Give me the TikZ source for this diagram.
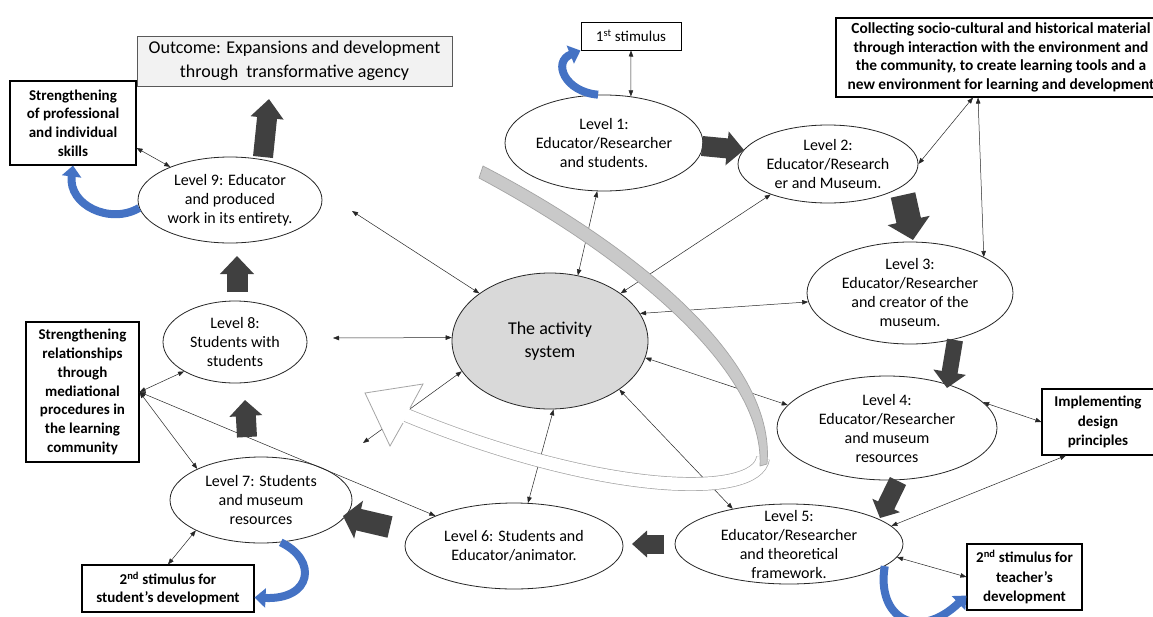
\documentclass[tikz,border=0pt]{standalone}
\usepackage{fontspec}
\setmainfont{Carlito}
\usetikzlibrary{arrows.meta,shapes.geometric}
\definecolor{darkarr}{HTML}{404040}
\definecolor{bluearr}{HTML}{4472C4}
\definecolor{bandfill}{HTML}{C9C9C9}
\definecolor{bandline}{HTML}{A5A5A5}
\definecolor{asfill}{HTML}{D9D9D9}
\definecolor{outfill}{HTML}{F2F2F2}
\begin{document}
\begin{tikzpicture}[x=1pt,y=-1pt,
  lvl/.style={ellipse, draw=black!85, line width=0.8pt, fill=white, inner sep=-40pt, align=center, font=\fontsize{16}{19}\selectfont},
  bx/.style={rectangle, draw=black, line width=1.1pt, fill=white, inner sep=0pt, align=center, font=\fontsize{15}{18.7}\selectfont\bfseries},
  conn/.style={draw=black!85, line width=0.5pt, {Triangle[length=6pt,width=4.5pt]}-{Triangle[length=6pt,width=4.5pt]}},
  blk/.style n args={3}{draw=darkarr, line width=#1, -{Triangle[width=#2,length=#3]}},
  blu/.style={draw=bluearr, line width=8pt, -{Triangle[width=19pt,length=11pt]}},
]
\useasboundingbox[fill=white] (0,0) rectangle (1153,616);

% ---------- level ellipses ----------
\node[lvl, minimum width=198pt, minimum height=96pt] (L1) at (604,143) {Level 1:\\Educator/Researcher\\and students.};
\node[lvl, minimum width=180pt, minimum height=78pt] (L2) at (828,164) {Level 2:\\Educator/Research\\er and Museum.};
\node[lvl, minimum width=206pt, minimum height=102pt] (L3) at (910,293) {Level 3:\\Educator/Researcher\\and creator of the\\museum.};
\node[lvl, minimum width=220pt, minimum height=104pt] (L4) at (887,428) {Level 4:\\Educator/Researcher\\and museum\\resources};
\node[lvl, minimum width=228pt, minimum height=80pt] (L5) at (789,544) {Level 5:\\Educator/Researcher\\and theoretical\\framework.};
\node[lvl, minimum width=218pt, minimum height=86pt] (L6) at (514,546) {Level 6: Students and\\Educator/animator.};
\node[lvl, minimum width=182pt, minimum height=86pt] (L7) at (261,500) {Level 7: Students\\and museum\\resources};
\node[lvl, minimum width=144pt, minimum height=82pt] (L8) at (235,342) {Level 8:\\Students with\\students};
\node[lvl, minimum width=184pt, minimum height=86pt] (L9) at (230,200) {Level 9: Educator\\and produced\\work in its entirety.};
\node[lvl, fill=asfill, minimum width=196pt, minimum height=136pt, font=\fontsize{18}{23}\selectfont] (AS) at (550,341) {The activity\\system};

% ---------- boxes ----------
\node[bx, fill=outfill, draw=black!65, line width=1pt, font=\fontsize{18}{24}\selectfont, minimum width=315pt, minimum height=50pt] (OUT) at (294.5,61) {Outcome: Expansions and development\\through\ \ transformative agency};
\node[bx, minimum width=126pt, minimum height=84pt] (SP) at (73,123) {Strengthening\\of professional\\and individual\\skills};
\node[bx, line width=1pt, font=\fontsize{15}{18}\selectfont, minimum width=100pt, minimum height=28pt] (S1) at (631,36) {1\textsuperscript{st} stimulus};
\node[bx, font=\fontsize{15.4}{18.5}\selectfont\bfseries, minimum width=330pt, minimum height=79pt] (COL) at (1001,57.5) {Collecting socio-cultural and historical material\\through interaction with the environment and\\the community, to create learning tools and a\\new environment for learning and development};
\node[bx, minimum width=113pt, minimum height=140pt] (SR) at (82.5,392) {Strengthening\\relationships\\through\\mediational\\procedures in\\the learning\\community};
\node[bx, font=\fontsize{15}{19.5}\selectfont\bfseries, minimum width=112pt, minimum height=66pt] (IMP) at (1098,422) {Implementing\\design\\principles};
\node[bx, minimum width=172pt, minimum height=47pt] (SS) at (168,588.5) {2\textsuperscript{nd} stimulus for\\student’s development};
\node[bx, font=\fontsize{15}{19.5}\selectfont\bfseries, minimum width=115pt, minimum height=66pt] (ST) at (1024.5,577) {2\textsuperscript{nd} stimulus for\\teacher’s\\development};

% ---------- free ends ----------
\coordinate (F1) at (363,443);
\coordinate (F2) at (333,338);
\coordinate (F3) at (352,211);

% ---------- thin two-headed connectors ----------
\draw[conn] (S1.south) -- (L1.60);
\draw[conn] (AS.67) -- (L1.262);
\draw[conn] (AS.34) -- (L2.208);
\draw[conn] (AS.17) -- (L3.185);
\draw[conn] (AS.-10) -- (L4.167);
\draw[conn] (AS.-35.5) -- (L5.148);
\draw[conn] (AS.-87.5) -- (L6.72);
\draw[conn] (AS.199) -- (F1);
\draw[conn] (AS.178) -- (F2);
\draw[conn] (AS.146) -- (F3);
\draw[conn] (L2.east) -- ([xshift=-28pt]COL.south);
\draw[conn] ([xshift=-23pt]COL.south) -- (L3.26);
\draw[conn] (L4.15.5) -- (IMP.west);
\draw[conn] (L5.10) -- ([xshift=-32pt]IMP.south);
\draw[conn] (L5.-7.5) -- (ST.west);
\draw[conn] (L7.205) -- (SS.north);
\draw[conn] (SR.east) -- (L8.210);
\draw[conn] (SR.east) -- (L7.154);
\draw[conn] (SR.east) -- (L6.159);
\draw[conn] ([yshift=-25pt]SP.east) -- (L9.151);

% ---------- big grey ribbon arrow ----------
\draw[draw=bandline, double=white, double distance=12.5pt, line width=0.7pt]
  (763,458) .. controls (757,500) and (600,495) .. (406,415);
\fill[white] (410,408) -- (423,384) -- (365,393) -- (390,446) -- (403,423) -- cycle;
\draw[bandline, line width=0.8pt, line join=miter] (410,408) -- (423,384) -- (365,393) -- (390,446) -- (403,423);
\filldraw[fill=bandfill, draw=bandline, line width=0.7pt, line join=round]
  (483,166) .. controls (624,239) and (777,356) .. (767,464)
  -- (760,466) .. controls (765,366) and (616,251) .. (479,178) -- cycle;

% ---------- dark block arrows ----------
\coordinate (k1a) at (702,146); \coordinate (k1b) at (744,150);
\coordinate (k2a) at (903,195); \coordinate (k2b) at (913,240);
\coordinate (k3a) at (955,340); \coordinate (k3b) at (947,388);
\coordinate (k4a) at (898,481); \coordinate (k4b) at (880,518);
\coordinate (k5a) at (664,544); \coordinate (k5b) at (632,544);
\coordinate (k6a) at (390,527); \coordinate (k6b) at (343,516);
\coordinate (k7a) at (247,437); \coordinate (k7b) at (245,400);
\coordinate (k8a) at (237,292); \coordinate (k8b) at (237,256);
\coordinate (k9a) at (263,157); \coordinate (k9b) at (269,99);
\draw[blk={20pt}{33pt}{17pt}] (k1a) -- (k1b);
\draw[blk={25pt}{42pt}{20pt}] (k2a) -- (k2b);
\draw[blk={16pt}{32pt}{16pt}] (k3a) -- (k3b);
\draw[blk={18pt}{30pt}{14pt}] (k4a) -- (k4b);
\draw[blk={19pt}{26pt}{15pt}] (k5a) -- (k5b);
\draw[blk={22pt}{38pt}{16pt}] (k6a) -- (k6b);
\draw[blk={20pt}{32pt}{16pt}] (k7a) -- (k7b);
\draw[blk={21pt}{33pt}{18pt}] (k8a) -- (k8b);
\draw[blk={20pt}{32pt}{19pt}] (k9a) -- (k9b);

% ---------- blue curved arrows ----------
\draw[blu] (L1.97) .. controls (565,92) and (552,62) .. (S1.south west);
\draw[blu] (L9.185) .. controls (110,225) and (68,205) .. (SP.south);
\draw[blu] (L7.-65) .. controls (318,560) and (312,600) .. ([yshift=-9pt]SS.east);
\draw[blu] (L5.-13) .. controls (876,618) and (918,642) .. ([yshift=15pt]ST.south west);
\end{tikzpicture}
\end{document}
